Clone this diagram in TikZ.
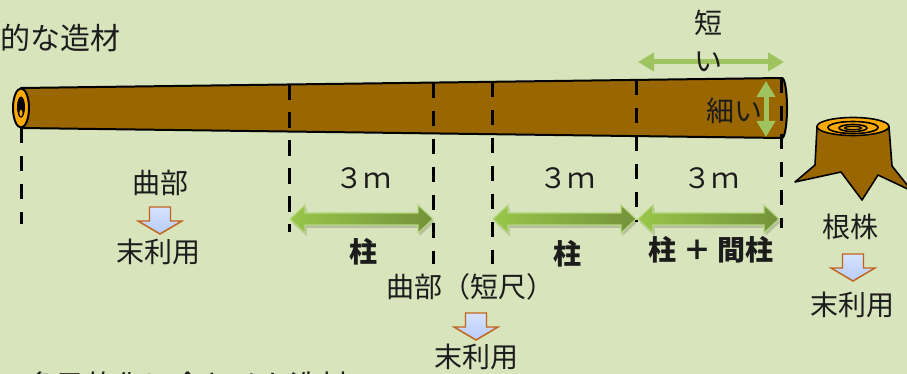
\documentclass[tikz,border=0pt]{standalone}
\usepackage{fontspec}
\newfontfamily\jpfont{Noto Sans CJK JP}
\usetikzlibrary{arrows.meta}

\definecolor{bg}{RGB}{216,228,188}
\definecolor{bark}{RGB}{153,102,0}
\definecolor{ring}{RGB}{255,170,0}
\definecolor{guide}{RGB}{158,195,95}
\definecolor{gl}{RGB}{152,198,74}
\definecolor{gd}{RGB}{116,146,58}
\definecolor{dntop}{RGB}{214,226,255}
\definecolor{dnbot}{RGB}{184,204,250}
\definecolor{dnline}{RGB}{192,100,28}
\definecolor{ink}{RGB}{28,28,28}

\tikzset{
  lbl/.style={font=\jpfont\fontsize{21}{28}\selectfont, text=ink, inner sep=0pt},
  blbl/.style={lbl, font=\jpfont\bfseries\fontsize{21}{28}\selectfont},
  headlbl/.style={lbl, font=\jpfont\fontsize{22.5}{30}\selectfont},
  cutline/.style={line width=2.25pt, dash pattern=on 11.5pt off 9.5pt},
  guidearrow/.style={guide, line width=3.75pt, {Triangle[width=13.5pt,length=12pt]}-{Triangle[width=13.5pt,length=12pt]}},
  dnblock/.style={draw=dnline, line width=1.1pt, top color=dntop, bottom color=dnbot, line join=miter},
}

% fat double-headed length arrow: x-start, x-end, y
\newcommand\fatarrow[3]{%
  \fill[black,opacity=.16,shift={(1.5,3)}]
    (#1,#3) -- (#1+15,#3-14) -- (#1+15,#3-6) -- (#2-15,#3-6) -- (#2-15,#3-14) -- (#2,#3)
    -- (#2-15,#3+14) -- (#2-15,#3+6) -- (#1+15,#3+6) -- (#1+15,#3+14) -- cycle;
  \draw[left color=gl, right color=gd, draw=gl!70!white, line width=.8pt, line join=miter]
    (#1,#3) -- (#1+15,#3-14) -- (#1+15,#3-6) -- (#2-15,#3-6) -- (#2-15,#3-14) -- (#2,#3)
    -- (#2-15,#3+14) -- (#2-15,#3+6) -- (#1+15,#3+6) -- (#1+15,#3+14) -- cycle;
}

% small block arrow pointing down, top centre given as a named coordinate
\newcommand\dnarrow[1]{%
  \draw[dnblock, shift={(#1)}]
    (-10.5,0) -- (10.5,0) -- (10.5,14) -- (22,14) -- (0,27) -- (-22,14) -- (-10.5,14) -- cycle;
}

\begin{document}
\begin{tikzpicture}[x=0.75pt,y=-0.75pt]
\useasboundingbox (0,0) rectangle (907,374);
\fill[bg] (0,0) rectangle (907,374);
\clip (0,0) rectangle (907,374);

% headings
\node[headlbl, anchor=east] (head) at (121,38) {的な造材};
\node[lbl, font=\jpfont\fontsize{22}{28}\selectfont, anchor=west] (foot) at (-3,385) {る多目的化に合わせた造材};

% the log
\draw[fill=bark, line width=1.5pt, line join=round]
  (21,88) -- (782,78) arc[start angle=-90, end angle=90, x radius=5, y radius=30]
  -- (21,128) -- cycle;
\draw[fill=ring, line width=1.5pt] (21,108) ellipse[x radius=8, y radius=19.5];
\fill[black] (21,107) ellipse[x radius=4, y radius=10.5];
\draw[fill=ring, line width=.8pt] (21,113) ellipse[x radius=2.2, y radius=4];

% cutting lines
\coordinate (t0) at (21,128);   \coordinate (b0) at (21,224);
\coordinate (t1) at (289,84.5); \coordinate (b1) at (289,232);
\coordinate (t2) at (433,82.6); \coordinate (b2) at (433,264);
\coordinate (t3) at (492,81.8); \coordinate (b3) at (492,264);
\coordinate (t4) at (636,79.9); \coordinate (b4) at (636,222);
\coordinate (t5) at (781,78);   \coordinate (b5) at (781,228);
\foreach \i in {0,...,5} \draw[cutline] (t\i) -- (b\i);

% "short" and "thin" guide arrows
\coordinate (sl) at (638,62);  \coordinate (sr) at (784,62);
\coordinate (vt) at (766,81);  \coordinate (vb) at (766,137);
\draw[guidearrow] (sl) -- (sr);
\draw[guidearrow] (vt) -- (vb);
\node[lbl, align=center] (short) at (708,41) {短\\い};
\node[lbl] (thin) at (734,111) {細い};

% length arrows
\fatarrow{290}{433}{219}
\fatarrow{493}{636}{219}
\fatarrow{638}{779}{219}

\node[lbl] (len1) at (363,178) {３ｍ};
\node[lbl] (len2) at (567,178) {３ｍ};
\node[lbl] (len3) at (711,178) {３ｍ};

\node[blbl] (post1) at (363,252) {柱};
\node[blbl] (post2) at (567,254) {柱};
\node[blbl] (post3) at (711,250) {柱 ＋ 間柱};

% bent butt end
\node[lbl] (bend) at (160,183) {曲部};
\coordinate (d1) at (160,207);
\dnarrow{d1}
\node[lbl] (waste1) at (158,252) {末利用};

% short bent piece
\node[lbl] (bend2) at (470,287) {曲部（短尺）};
\coordinate (d2) at (476,313);
\dnarrow{d2}
\node[lbl] (waste2) at (476,357) {末利用};

% stump
\draw[fill=bark, line width=1.2pt, line join=round]
  (817,127) -- (815,165) -- (795,182) -- (841,172) -- (862,200) -- (878,175)
  -- (912,191) -- (892,166) -- (889,127) -- cycle;
\draw[fill=ring, line width=1.2pt] (853,126.5) ellipse[x radius=36, y radius=9];
\draw[fill=ring, line width=1.2pt] (853,127.5) ellipse[x radius=25, y radius=6];
\draw[fill=ring, line width=1.2pt] (853,128) ellipse[x radius=14, y radius=3.5];
\draw[fill=ring, line width=1pt] (853,128) ellipse[x radius=8.5, y radius=1.6];

\node[lbl] (stump) at (850,227) {根株};
\coordinate (d3) at (853,254);
\dnarrow{d3}
\node[lbl] (waste3) at (852,305) {末利用};
\end{tikzpicture}
\end{document}
